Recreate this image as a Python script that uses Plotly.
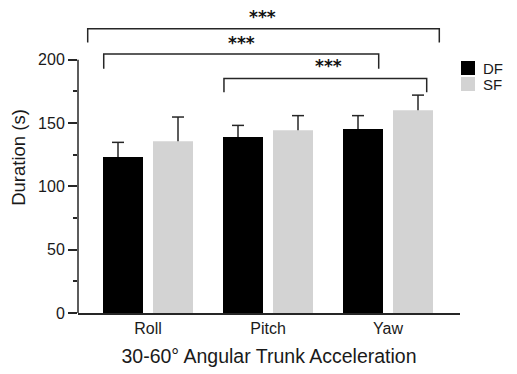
import plotly.graph_objects as go

categories = ["Roll", "Pitch", "Yaw"]
df_mean = [123.2, 139.0, 145.3]
df_err = [11.5, 9.1, 10.5]
sf_mean = [135.5, 144.2, 160.0]
sf_err = [19.2, 11.6, 12.0]
ytick_vals = [0, 50, 100, 150, 200]
ytick_minor = [25, 75, 125, 175]
sig_labels = ["***", "***", "***"]

FONT = "Arial, Liberation Sans, sans-serif"
AX = "#262626"
TXT = "#1a1a1a"

xpos = list(range(len(categories)))
OFF = 0.25      # half-slot offset of each bar from category centre
CAP = 0.05      # half-width of error bar cap (x units)

fig = go.Figure()
for name, means, col in [("DF", df_mean, "#000000"), ("SF", sf_mean, "#d3d3d3")]:
    fig.add_trace(go.Bar(
        x=xpos, y=means, name=name, offsetgroup=name,
        marker=dict(color=col, line=dict(width=0)),
    ))

# one-sided error bars (stem + top cap only), drawn from the data
for means, errs, sign in [(df_mean, df_err, -1), (sf_mean, sf_err, 1)]:
    ex, ey = [], []
    for i, (m, e) in enumerate(zip(means, errs)):
        xc = xpos[i] + sign * OFF
        ex += [xc, xc, None, xc - CAP, xc + CAP, None]
        ey += [m, m + e, None, m + e, m + e, None]
    fig.add_trace(go.Scatter(x=ex, y=ey, mode="lines", hoverinfo="skip",
                             line=dict(color=AX, width=1.5), showlegend=False))

fig.update_layout(
    width=517, height=374,
    margin=dict(l=78, r=57, t=2, b=61),
    paper_bgcolor="white", plot_bgcolor="white",
    barmode="group", bargap=1 / 6, bargroupgap=0.2,
    showlegend=False,
    font=dict(family=FONT, color=TXT),
    xaxis=dict(
        type="linear", range=[-0.5833, 2.6], showline=True, linecolor=AX, linewidth=1.5,
        tickvals=xpos, ticktext=categories,
        ticks="", showgrid=False, zeroline=False,
        tickfont=dict(size=16, family=FONT, color=TXT),
        title=dict(text="30-60° Angular Trunk Acceleration",
                   font=dict(size=19.5, family=FONT, color=TXT), standoff=13),
    ),
    yaxis=dict(
        range=[0, 245.5], showline=False, showgrid=False, zeroline=False,
        tickvals=ytick_vals, ticks="outside", ticklen=9, tickwidth=1.5, tickcolor=AX,
        minor=dict(tickvals=ytick_minor, ticks="outside", ticklen=4, tickwidth=1.5,
                   tickcolor=AX, showgrid=False),
        tickfont=dict(size=16, family=FONT, color=TXT),
        title=dict(text="Duration (s)", font=dict(size=18.5, family=FONT, color=TXT),
                   standoff=7),
    ),
)

# y axis line (only from 0 to 200)
fig.add_shape(type="line", xref="paper", yref="y", x0=0, x1=0, y0=0, y1=200,
              line=dict(color=AX, width=1.5))

# significance brackets: (x_left, x_right, y_bar, y_drop, label_x, label_y)
brackets = [
    (-0.5025, 2.4275, 224.4, 213.6, 0.955, 233.5),
    (-0.369, 1.9225, 204.5, 192.9, 0.775, 213.5),
    (0.633, 2.3225, 185.2, 174.2, 1.503, 195.0),
]
for (xl, xr, yb, yd, lx, ly), lab in zip(brackets, sig_labels):
    fig.add_shape(type="path", xref="x", yref="y",
                  path=f"M {xl},{yd} L {xl},{yb} L {xr},{yb} L {xr},{yd}",
                  line=dict(color=AX, width=1.5))
    fig.add_annotation(x=lx, y=ly, xref="x", yref="y", text=f"<b>{lab}</b>",
                       showarrow=False, font=dict(size=17, family="DejaVu Sans", color="#111"),
                       xanchor="center", yanchor="middle")

# manual legend
def px2paper_x(px):
    return (px - 78) / 382

def py2paper_y(py):
    return (313 - py) / 311

legend_items = [("DF", "#000000", 61, 75), ("SF", "#d3d3d3", 77, 91)]
for name, col, top, bot in legend_items:
    fig.add_shape(type="rect", xref="paper", yref="paper",
                  x0=px2paper_x(461), x1=px2paper_x(475),
                  y0=py2paper_y(bot), y1=py2paper_y(top),
                  fillcolor=col, line=dict(width=0))
    fig.add_annotation(x=px2paper_x(481), y=py2paper_y((top + bot) / 2),
                       xref="paper", yref="paper", text=name, showarrow=False,
                       xanchor="left", yanchor="middle",
                       font=dict(size=15, family=FONT, color=TXT))

fig.write_html("out.html")
